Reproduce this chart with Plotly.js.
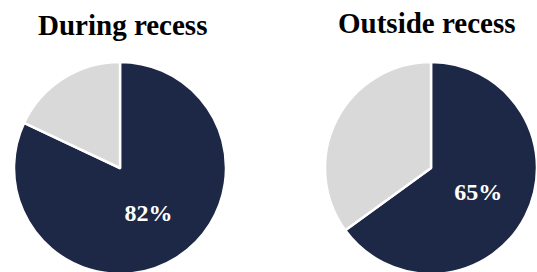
<!DOCTYPE html>
<html>
<head>
<meta charset="utf-8">
<script src="https://cdn.plot.ly/plotly-3.0.1.min.js"></script>
<style>
html, body { margin: 0; padding: 0; overflow: hidden; background: #fff; }
#chart { width: 540px; height: 280px; }
</style>
</head>
<body>
<div id="chart"></div>
<script>
const panelTitles = ["During recess", "Outside recess"];
const sliceLabels = ["Yes", "No"];
const duringValues = [82, 18];
const outsideValues = [65, 35];
const sliceColors = ["#1c2846", "#d9d9d9"];

const W = 540, H = 280;
function px(x) { return x / W; }
function py(y) { return 1 - y / H; }

const serif = "Liberation Serif";

function pieTrace(values, x0, x1, yTop, yBot) {
  const f = { family: serif, size: 24, color: "#ffffff", weight: 700 };
  return {
    type: "pie",
    values: values,
    labels: sliceLabels,
    sort: false,
    direction: "clockwise",
    rotation: 0,
    marker: { colors: sliceColors, line: { color: "#ffffff", width: 2.5 } },
    text: values.map((v, i) => i === 0 ? v + "%" : ""),
    textinfo: "text",
    textposition: "inside",
    insidetextorientation: "horizontal",
    textfont: f,
    insidetextfont: f,
    hoverinfo: "none",
    domain: { x: [px(x0), px(x1)], y: [py(yBot), py(yTop)] },
    showlegend: false
  };
}

const data = [
  pieTrace(duringValues, 14, 226, 62, 274),
  pieTrace(outsideValues, 325, 537, 62, 274)
];

const titleFont = { family: serif, size: 29, color: "#000000", weight: 700 };
const layout = {
  width: W, height: H,
  margin: { l: 0, r: 0, t: 0, b: 0 },
  paper_bgcolor: "#ffffff",
  showlegend: false,
  font: { family: serif },
  annotations: [
    { text: panelTitles[0], x: px(122), y: py(25), xref: "paper", yref: "paper", xanchor: "center", yanchor: "middle", showarrow: false, font: titleFont },
    { text: panelTitles[1], x: px(426), y: py(23), xref: "paper", yref: "paper", xanchor: "center", yanchor: "middle", showarrow: false, font: titleFont }
  ]
};

Plotly.newPlot("chart", data, layout, { staticPlot: true, displayModeBar: false });
</script>
</body>
</html>
